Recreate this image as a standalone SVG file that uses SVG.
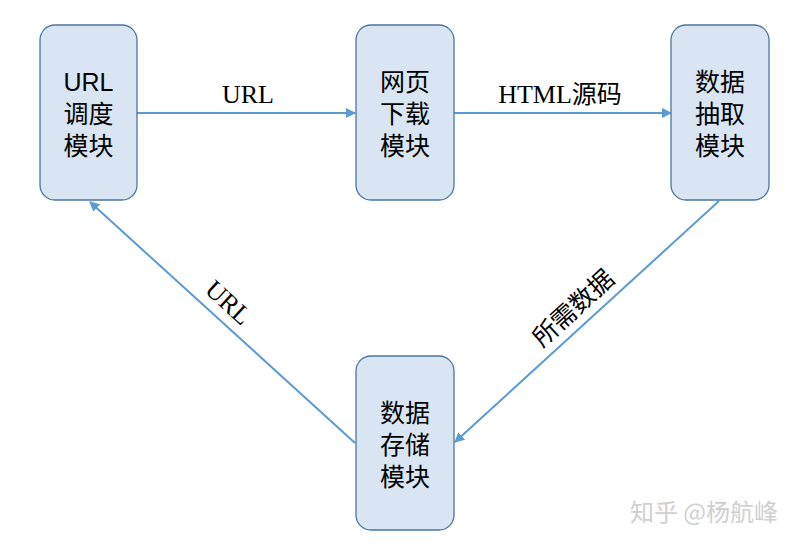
<svg xmlns="http://www.w3.org/2000/svg" width="797" height="544" viewBox="0 0 797 544">
<style>
.box{fill:#DAE5F3;stroke:#4A76A0;stroke-width:1.3}
.nt{font-family:"Liberation Sans","Noto Sans CJK SC",sans-serif;font-size:25px;fill:#000;text-anchor:middle}
.el{font-family:"Liberation Serif","Noto Sans CJK SC",serif;font-size:26px;fill:#000;text-anchor:middle}
.cn{font-family:"Noto Sans CJK SC",sans-serif;font-size:25px;fill:#000;text-anchor:middle}
.ln{stroke:#5B9BD5;stroke-width:2;fill:none;marker-end:url(#ah)}
.wm{font-family:"Noto Sans CJK SC",sans-serif;font-size:24px;fill:#d0d0d0;text-anchor:middle}
</style>
<defs>
<marker id="ah" viewBox="0 0 10 10" refX="9" refY="5" markerWidth="5" markerHeight="5" orient="auto" markerUnits="strokeWidth">
<path d="M0,0 L10,5 L0,10 z" fill="#5B9BD5"/>
</marker>
</defs>
<rect width="797" height="544" fill="#fff"/>
<g id="connectors">
<line class="ln" x1="137" y1="113" x2="355" y2="113"/>
<line class="ln" x1="454" y1="113" x2="671" y2="113"/>
<line class="ln" x1="719" y1="201" x2="455" y2="442"/>
<line class="ln" x1="355" y1="443" x2="90" y2="202"/>
<text class="el" x="248" y="103">URL</text>
<text class="el" x="560" y="103"><tspan font-family="Liberation Serif">HTML</tspan><tspan font-family="Noto Sans CJK SC" font-size="25">源码</tspan></text>
<text class="el" transform="translate(228,303) rotate(42.4)" y="8">URL</text>
<text class="cn" transform="translate(573,308) rotate(-42.4)" y="9">所需数据</text>
</g>
<g id="node-url">
<rect class="box" x="40" y="25" width="97" height="175" rx="15"/>
<text class="nt" x="88.5" y="91">URL</text>
<text class="nt" x="88.5" y="123">调度</text>
<text class="nt" x="88.5" y="155">模块</text>
</g>
<g id="node-download">
<rect class="box" x="356" y="25" width="98" height="175" rx="15"/>
<text class="nt" x="405" y="91">网页</text>
<text class="nt" x="405" y="123">下载</text>
<text class="nt" x="405" y="155">模块</text>
</g>
<g id="node-extract">
<rect class="box" x="671" y="25" width="98" height="175" rx="15"/>
<text class="nt" x="720" y="91">数据</text>
<text class="nt" x="720" y="123">抽取</text>
<text class="nt" x="720" y="155">模块</text>
</g>
<g id="node-store">
<rect class="box" x="356" y="356" width="98" height="174" rx="15"/>
<text class="nt" x="405" y="422">数据</text>
<text class="nt" x="405" y="454">存储</text>
<text class="nt" x="405" y="486">模块</text>
</g>
<text class="wm" x="704" y="521">知乎 @杨航峰</text>
</svg>
